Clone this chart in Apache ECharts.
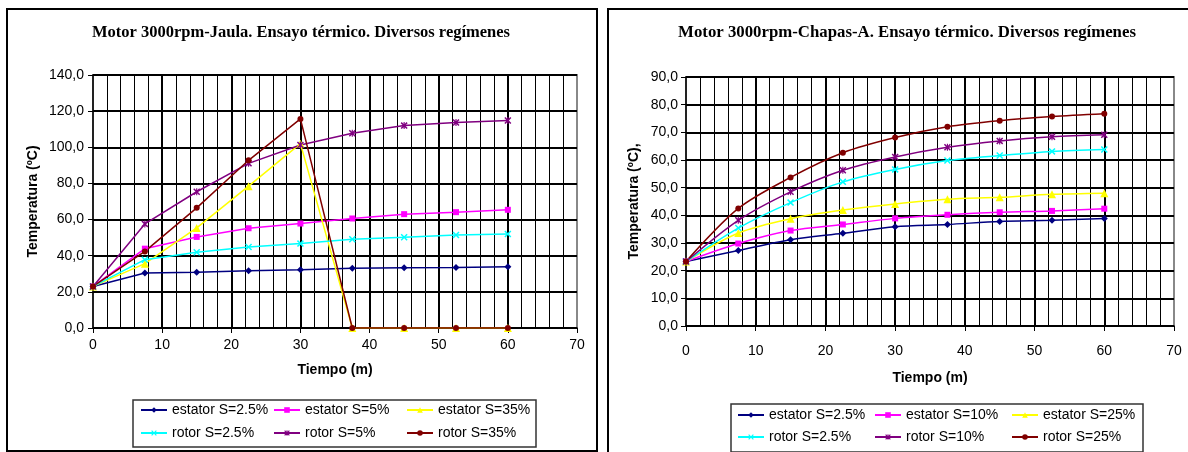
<!DOCTYPE html>
<html>
<head>
<meta charset="utf-8">
<script src="https://cdn.jsdelivr.net/npm/echarts@6/dist/echarts.min.js"></script>
<style>
html,body{margin:0;padding:0;background:#fff;}
#c{width:1188px;height:452px;}
</style>
</head>
<body>
<div id="c"></div>
<script>
// ---- data ----
const time = [0, 7.5, 15, 22.5, 30, 37.5, 45, 52.5, 60];

const leftTitle = 'Motor 3000rpm-Jaula. Ensayo térmico. Diversos regímenes';
const rightTitle = 'Motor 3000rpm-Chapas-A. Ensayo térmico. Diversos regímenes';
const yNameLeft = 'Temperatura (ºC)';
const yNameRight = 'Temperatura (ºC),';
const xName = 'Tiempo (m)';

const leftNames = ['estator S=2.5%', 'estator S=5%', 'estator S=35%', 'rotor S=2.5%', 'rotor S=5%', 'rotor S=35%'];
const jaulaEstator2_5 = [23.0, 30.4, 30.9, 31.7, 32.2, 33.0, 33.3, 33.5, 33.9];
const jaulaEstator5   = [23.0, 43.9, 50.4, 55.2, 57.8, 60.6, 63.0, 64.1, 65.4];
const jaulaEstator35  = [23.0, 35.6, 55.4, 78.5, 102.0, 0, 0, 0, 0];
const jaulaRotor2_5   = [23.0, 37.8, 41.9, 44.8, 46.7, 49.1, 50.2, 51.5, 52.0];
const jaulaRotor5     = [23.0, 57.6, 75.4, 91.1, 101.3, 107.8, 112.0, 113.7, 114.8];
const jaulaRotor35    = [23.0, 42.4, 66.5, 92.8, 115.7, 0, 0, 0, 0];

const rightNames = ['estator S=2.5%', 'estator S=10%', 'estator S=25%', 'rotor S=2.5%', 'rotor S=10%', 'rotor S=25%'];
const chapasEstator2_5 = [23.3, 27.3, 31.2, 33.5, 35.9, 36.7, 37.8, 38.2, 38.9];
const chapasEstator10  = [23.3, 29.8, 34.5, 36.7, 38.9, 40.2, 41.1, 41.6, 42.4];
const chapasEstator25  = [23.3, 33.6, 38.8, 41.9, 44.1, 45.8, 46.5, 47.6, 48.0];
const chapasRotor2_5   = [23.3, 35.4, 44.6, 52.1, 56.6, 59.8, 61.6, 63.1, 63.8];
const chapasRotor10    = [23.3, 38.2, 48.5, 56.3, 61.1, 64.6, 66.9, 68.4, 69.1];
const chapasRotor25    = [23.3, 42.5, 53.7, 62.6, 68.1, 72.0, 74.2, 75.7, 76.7];

// ---- styles ----
const SANS = "'Liberation Sans', Arial, sans-serif";
const SERIF = "'Liberation Serif', 'Times New Roman', serif";
const X_PATH = 'path://M0,1.5L1.5,0L5,3.5L8.5,0L10,1.5L6.5,5L10,8.5L8.5,10L5,6.5L1.5,10L0,8.5L3.5,5Z';
const AST_PATH = 'path://M0,1.5L1.5,0L5,3.5L8.5,0L10,1.5L6.5,5L10,8.5L8.5,10L5,6.5L1.5,10L0,8.5L3.5,5Z M4.2,0L5.8,0L5.8,10L4.2,10Z';
const styles = [
  {color:'#000080', symbol:'diamond', size:7},
  {color:'#FF00FF', symbol:'rect', size:6},
  {color:'#FFFF00', symbol:'triangle', size:8},
  {color:'#00FFFF', symbol:X_PATH, size:7},
  {color:'#800080', symbol:AST_PATH, size:7},
  {color:'#800000', symbol:'circle', size:6}
];

function mk(name, vals, st, idx, smooth) {
  return {
    type:'line', name:name, xAxisIndex:idx, yAxisIndex:idx,
    data: time.map((t,i)=>[t, vals[i]]),
    smooth: smooth, symbol: st.symbol, symbolSize: st.size,
    lineStyle:{color:st.color, width:1.5},
    itemStyle:{color:st.color},
    emphasis:{disabled:true}, animation:false
  };
}

const leftVals = [jaulaEstator2_5, jaulaEstator5, jaulaEstator35, jaulaRotor2_5, jaulaRotor5, jaulaRotor35];
const rightVals = [chapasEstator2_5, chapasEstator10, chapasEstator25, chapasRotor2_5, chapasRotor10, chapasRotor25];

const series = [];
leftVals.forEach((v,i)=>series.push(mk(leftNames[i], v, styles[i], 0, false)));
rightVals.forEach((v,i)=>series.push(mk(rightNames[i], v, styles[i], 1, 0.3)));

function xAx(idx, labelMargin, nameGap) {
  return {
    type:'value', gridIndex:idx, min:0, max:70, interval:10,
    name:xName, nameLocation:'middle', nameGap:nameGap,
    nameTextStyle:{fontFamily:SANS, fontSize:14, fontWeight:'bold', color:'#000'},
    axisLine:{show:true, onZero:false, lineStyle:{color:'#000', width:1.5}},
    axisTick:{show:true, length:5, lineStyle:{color:'#000', width:1}},
    axisLabel:{fontFamily:SANS, fontSize:14, color:'#000', margin:labelMargin},
    splitLine:{show:true, showMinLine:false, showMaxLine:false, lineStyle:{color:'#000', width:2}},
    minorTick:{show:false, splitNumber:5},
    minorSplitLine:{show:true, lineStyle:{color:'#000', width:1}}
  };
}
function yAx(idx, max, interval, name, nameGap, labelMargin) {
  return {
    type:'value', gridIndex:idx, min:0, max:max, interval:interval,
    name:name, nameLocation:'middle', nameGap:nameGap, nameRotate:90,
    nameTextStyle:{fontFamily:SANS, fontSize:14, fontWeight:'bold', color:'#000'},
    axisLine:{show:true, lineStyle:{color:'#000', width:1.5}},
    axisTick:{show:true, length:5, lineStyle:{color:'#000', width:1}},
    axisLabel:{fontFamily:SANS, fontSize:14, color:'#000', margin:labelMargin,
      formatter:(v)=>v.toFixed(1).replace('.', ',')},
    splitLine:{show:true, lineStyle:{color:'#000', width:2}}
  };
}

function legendItem(name, left, top) {
  return {
    data:[name], left:left, top:top, orient:'horizontal', padding:0,
    itemWidth:26, itemHeight:7, itemGap:0, selectedMode:false,
    textStyle:{fontFamily:SANS, fontSize:14, color:'#000'}
  };
}
const legends = [];
const lCols = [140, 273, 406], lRows = [403, 426];
const rCols = [737, 874, 1011], rRows = [408, 430];
leftNames.forEach((n,i)=>legends.push(legendItem(n, lCols[i%3], lRows[Math.floor(i/3)])));
rightNames.forEach((n,i)=>legends.push(legendItem(n, rCols[i%3], rRows[Math.floor(i/3)])));

const chart = echarts.init(document.getElementById('c'), null, {renderer:'canvas'});
chart.setOption({
  animation:false,
  backgroundColor:'#fff',
  title:[
    {text:leftTitle, left:301, top:24, padding:0, textAlign:'center',
     textStyle:{fontFamily:SERIF, fontSize:16.5, fontWeight:'bold', color:'#000'}},
    {text:rightTitle, left:907, top:24, padding:0, textAlign:'center',
     textStyle:{fontFamily:SERIF, fontSize:16.8, fontWeight:'bold', color:'#000'}}
  ],
  grid:[
    {left:93, top:75, width:484, height:253, show:true, backgroundColor:'#fff', borderColor:'#888', borderWidth:2},
    {left:686, top:77, width:488, height:249, show:true, backgroundColor:'#fff', borderColor:'#888', borderWidth:2}
  ],
  xAxis:[xAx(0, 10, 35), xAx(1, 18, 45)],
  yAxis:[yAx(0, 140, 20, yNameLeft, 53, 9), yAx(1, 90, 10, yNameRight, 45, 8)],
  legend:legends,
  graphic:[
    {type:'rect', shape:{x:7, y:9, width:590, height:442}, style:{fill:'none', stroke:'#000', lineWidth:2}, z:-10, silent:true},
    {type:'rect', shape:{x:608, y:9, width:590, height:450}, style:{fill:'none', stroke:'#000', lineWidth:2}, z:-10, silent:true},
    {type:'rect', shape:{x:133, y:400, width:403, height:47}, style:{fill:'none', stroke:'#333', lineWidth:1.5}, z:-10, silent:true},
    {type:'rect', shape:{x:731, y:404, width:412, height:48}, style:{fill:'none', stroke:'#333', lineWidth:1.5}, z:-10, silent:true}
  ],
  series:series
});
</script>
</body>
</html>
